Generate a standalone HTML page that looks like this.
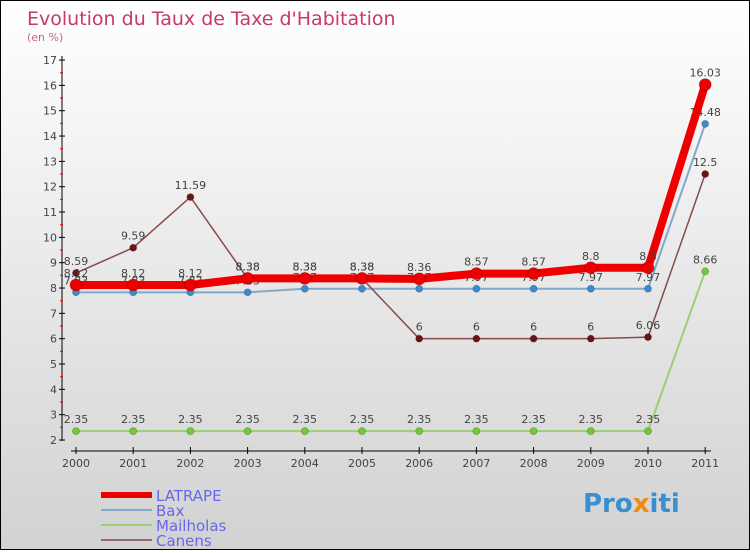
<!DOCTYPE html>
<html><head><meta charset="utf-8"><style>
body{margin:0}
#c{width:748px;height:548px;border:1px solid #000;background:linear-gradient(#fff,#d2d2d2);position:relative;font-family:"DejaVu Sans","Liberation Sans",sans-serif}
text{font-family:"DejaVu Sans","Liberation Sans",sans-serif}
</style></head><body>
<div id="c">
<svg id="s" width="748" height="548">
<text x="26" y="24" font-size="19" fill="#c8386a">Evolution du Taux de Taxe d'Habitation</text>
<text x="26" y="40" font-size="11" fill="#d06090">(en %)</text>
</svg>
<div style="position:absolute;left:582px;top:488px;font-size:26px;font-weight:bold;color:#3a8fd0;font-family:'DejaVu Sans',sans-serif">Pro<span style="color:#f08a10">x</span>iti</div>
</div>
<script>
const years=["2000","2001","2002","2003","2004","2005","2006","2007","2008","2009","2010","2011"];
const yTicks=[2,3,4,5,6,7,8,9,10,11,12,13,14,15,16,17];
const latrape=[8.12,8.12,8.12,8.38,8.38,8.38,8.36,8.57,8.57,8.8,8.8,16.03];
const bax=[7.83,7.83,7.83,7.83,7.97,7.97,7.97,7.97,7.97,7.97,7.97,14.48];
const mailholas=[2.35,2.35,2.35,2.35,2.35,2.35,2.35,2.35,2.35,2.35,2.35,8.66];
const canens=[8.59,9.59,11.59,8.38,8.38,8.38,6,6,6,6,6.06,12.5];
const seriesNames=["LATRAPE","Bax","Mailholas","Canens"];
const s=document.getElementById('s');const NS='http://www.w3.org/2000/svg';
const X=i=>75+i*57.2, Y=v=>439-(v-2)*25.33;
function el(t,a,p){const e=document.createElementNS(NS,t);for(const k in a)e.setAttribute(k,a[k]);(p||s).appendChild(e);return e;}
// axes
let a=el('line',{x1:61,y1:55,x2:61,y2:440,stroke:'#000'});
a=el('line',{x1:70,y1:450,x2:710,y2:450,stroke:'#000'});
yTicks.forEach(v=>{el('line',{x1:58,y1:Y(v),x2:64,y2:Y(v),stroke:'#000'});
 if(v<17)el('line',{x1:59,y1:Y(v+0.5),x2:62,y2:Y(v+0.5),stroke:'#e00'});
 const t=el('text',{x:56,y:Y(v)+4,'font-size':11,fill:'#444','text-anchor':'end'});t.textContent=v;
 });
years.forEach((y,i)=>{el('line',{x1:X(i),y1:446,x2:X(i),y2:453,stroke:'#000'});
 const t=el('text',{x:X(i),y:466,'font-size':11,fill:'#444','text-anchor':'middle'});t.textContent=y;
 });
function series(d,col,w,r,dot,name){
 const g=el('g',{});
 el('polyline',{points:d.map((v,i)=>X(i)+','+Y(v)).join(' '),fill:'none',stroke:col,'stroke-width':w,'stroke-linejoin':'round'},g);
 d.forEach((v,i)=>{const c=el('circle',{cx:X(i),cy:Y(v),r:r,fill:dot,stroke:'#0003'},g);
  
  const t=el('text',{x:X(i),y:Y(v)-8,'font-size':11,fill:'#444','text-anchor':'middle'},g);t.textContent=v;});
}
series(mailholas,'#99d070',2,3.5,'#70cc30','mailholas');
series(bax,'#80aacc',2,3.5,'#3a8cd0','bax');
series(canens,'#8a4a4a',1.5,3.5,'#6a1515','canens');
series(latrape,'#ee0000',8,6,'#ee0000','latrape');
const cols=['#ee0000','#80aacc','#99d070','#9a6a6a'],ws=[6,2,2,2];
seriesNames.forEach((n,i)=>{const y=494+i*15;
 const g=el('g',{});
 el('line',{x1:100,y1:y,x2:151,y2:y,stroke:cols[i],'stroke-width':ws[i]},g);
 const t=el('text',{x:155,y:y+6,'font-size':15,fill:'#6666ee'},g);t.textContent=n;});
</script>
</body></html>
